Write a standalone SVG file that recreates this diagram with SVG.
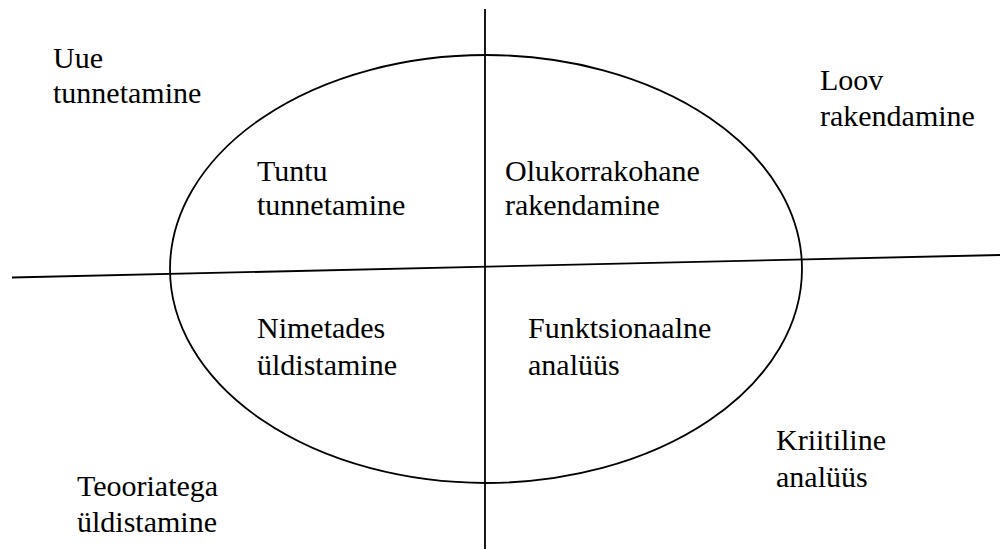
<svg xmlns="http://www.w3.org/2000/svg" width="1000" height="549" viewBox="0 0 1000 549">
<style>
.t{font-family:'Liberation Serif','Times New Roman','DejaVu Serif',Times,serif;font-size:30px;fill:#000}
.ln{stroke:#000;stroke-width:1.8;fill:none}
</style>
<rect width="1000" height="549" fill="#fff"/>
<g id="connectors">
<ellipse class="ln" cx="486" cy="269" rx="316" ry="214"/>
<line class="ln" x1="485" y1="9" x2="485" y2="549"/>
<line class="ln" x1="12" y1="277.5" x2="1000" y2="255"/>
</g>
<g id="uue"><text class="t" font-family="Liberation Serif"><tspan x="53" y="68">Uue</tspan><tspan x="53" y="103">tunnetamine</tspan></text></g>
<g id="tuntu"><text class="t"><tspan x="257" y="181">Tuntu</tspan><tspan x="257" y="215">tunnetamine</tspan></text></g>
<g id="olukorrakohane"><text class="t"><tspan x="505" y="181">Olukorrakohane</tspan><tspan x="505" y="215">rakendamine</tspan></text></g>
<g id="loov"><text class="t"><tspan x="820" y="90">Loov</tspan><tspan x="820" y="126">rakendamine</tspan></text></g>
<g id="nimetades"><text class="t"><tspan x="257" y="338">Nimetades</tspan><tspan x="257" y="375">üldistamine</tspan></text></g>
<g id="funktsionaalne"><text class="t"><tspan x="528" y="338">Funktsionaalne</tspan><tspan x="528" y="375">analüüs</tspan></text></g>
<g id="kriitiline"><text class="t"><tspan x="776" y="450">Kriitiline</tspan><tspan x="776" y="487">analüüs</tspan></text></g>
<g id="teooriatega"><text class="t"><tspan x="77" y="496">Teooriatega</tspan><tspan x="77" y="532">üldistamine</tspan></text></g>
</svg>
